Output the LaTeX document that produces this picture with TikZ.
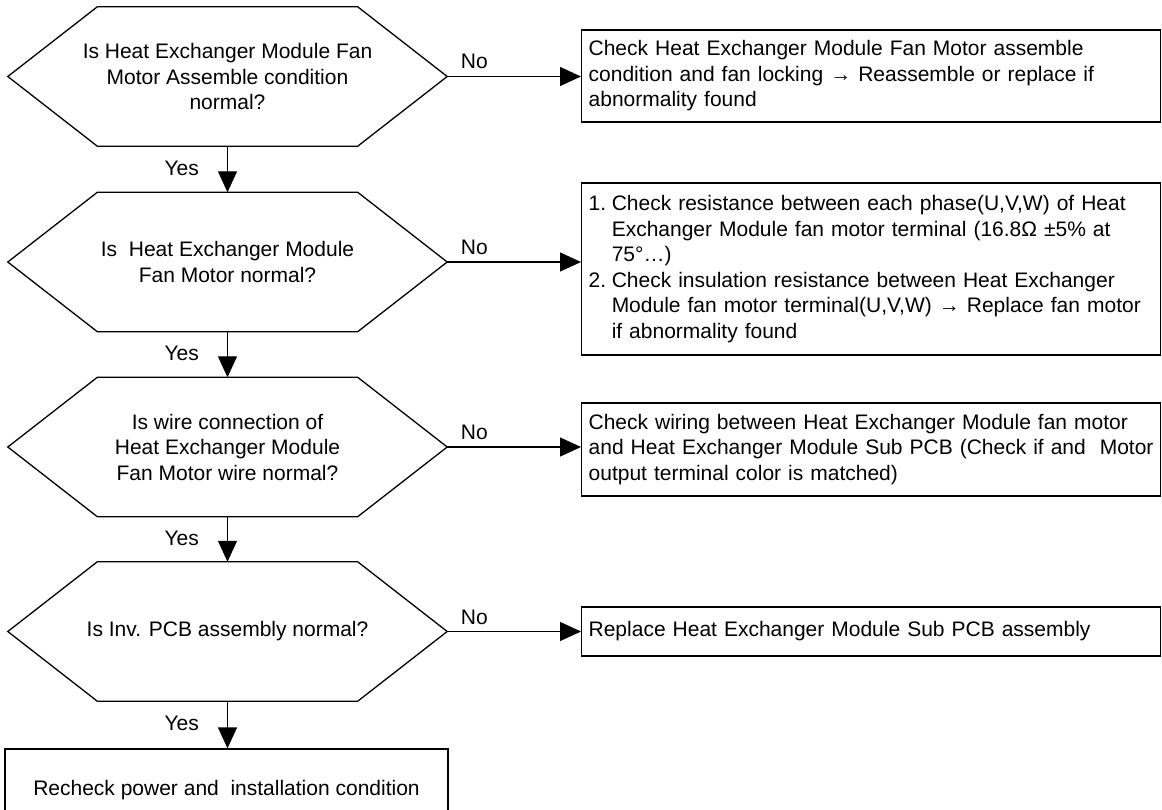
\documentclass[tikz,border=0pt]{standalone}
\usepackage{fontspec}
\setmainfont{Liberation Sans}
\usetikzlibrary{arrows.meta}

\tikzset{
	txt/.style={font=\fontsize{21}{25.5}\selectfont},
	question/.style={txt, minimum width=439pt, minimum height=139pt, inner sep=0pt, align=center},
	action/.style={txt, draw, line width=1.3pt, anchor=west, text width=565pt,
		inner xsep=7pt, inner ysep=0pt, align=left},
	arr/.style={line width=1.3pt, -{Triangle[length=21pt,width=19pt]}},
	lbl/.style={txt, inner sep=0pt}
}
\newcommand*\itemno[1]{\makebox[1.1em][l]{#1}}

\begin{document}
\begin{tikzpicture}[x=1pt,y=-1pt]
		\useasboundingbox (0,0) rectangle (1162,810);
		\clip (0,0) rectangle (1162,810);

		% Questions down the left side
		\node[question] (q1) at (227.5,76.5) {Is Heat Exchanger Module Fan\\Motor Assemble condition\\normal?};
		\node[question] (q2) at (227.5,262) {Is\ \ Heat Exchanger Module\\Fan Motor normal?};
		\node[question] (q3) at (227.5,447) {Is wire connection of\\Heat Exchanger Module\\Fan Motor wire normal?};
		\node[question] (q4) at (227.5,631.5) {Is Inv. PCB assembly normal?};
		\node[txt, draw, line width=1.3pt, minimum width=443pt, minimum height=82pt] (done) at (226.5,790) {Recheck power and\ \ installation condition};

		% Hexagon outlines around the questions
		\foreach \q in {q1,q2,q3,q4}
			\draw[line width=1.3pt] (\q.west) -- ([xshift=89.5pt]\q.north west) -- ([xshift=-89.5pt]\q.north east)
				-- (\q.east) -- ([xshift=-89.5pt]\q.south east) -- ([xshift=89.5pt]\q.south west) -- cycle;

		% Actions on the right
		\node[action, minimum height=92pt] (a1) at (581,76) {Check Heat Exchanger Module Fan Motor assemble\\condition and fan locking → Reassemble or replace if\\abnormality found};
		\node[action, minimum height=172pt] (a2) at (581,269) {\itemno{1.}Check resistance between each phase(U,V,W) of Heat\\\itemno{}Exchanger Module fan motor terminal (16.8Ω ±5\% at\\\itemno{}75°…)\\
			\itemno{2.}Check insulation resistance between Heat Exchanger\\\itemno{}Module fan motor terminal(U,V,W) → Replace fan motor\\\itemno{}if abnormality found};
		\node[action, minimum height=93pt] (a3) at (581,449.5) {Check wiring between Heat Exchanger Module fan motor\\and Heat Exchanger Module Sub PCB (Check if and\ \ Motor\\output terminal color is matched)};
		\node[action, minimum height=49pt] (a4) at (581,631.5) {Replace Heat Exchanger Module Sub PCB assembly};

		% Yes branches
		\draw[arr] (q1.south) -- (q2.north) node[lbl, midway, anchor=base east, xshift=-28pt, yshift=-6pt] {Yes};
		\draw[arr] (q2.south) -- (q3.north) node[lbl, midway, anchor=base east, xshift=-28pt, yshift=-6pt] {Yes};
		\draw[arr] (q3.south) -- (q4.north) node[lbl, midway, anchor=base east, xshift=-28pt, yshift=-6pt] {Yes};
		\draw[arr] (q4.south) -- (q4.south |- done.north) node[lbl, midway, anchor=base east, xshift=-28pt, yshift=-6pt] {Yes};

		% No branches
		\foreach \i in {1,...,4}
			\draw[arr] (q\i.east) -- (q\i.east -| a\i.west) node[lbl, pos=0, anchor=base west, xshift=13pt, yshift=7.5pt] {No};
	\end{tikzpicture}
\end{document}
